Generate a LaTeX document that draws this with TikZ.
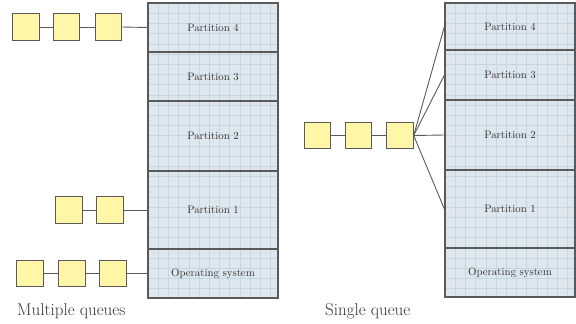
\documentclass[tikz,border=0pt]{standalone}
\usepackage{tikz}
\definecolor{memfill}{HTML}{DFE7EE}
\definecolor{gridc}{HTML}{C4D6E0}
\definecolor{edgec}{HTML}{5A5A5A}
\definecolor{qfill}{HTML}{FFF6A8}
\definecolor{txtc}{HTML}{333333}
\tikzset{
  part/.style={draw=edgec, line width=1.2pt, minimum width=130pt, inner sep=0pt, text=txtc, font=\fontsize{10.8}{12}\selectfont},
  qbox/.style={draw=edgec, line width=0.9pt, fill=qfill, minimum width=26.5pt, minimum height=26.5pt, inner sep=0pt},
  link/.style={draw=edgec, line width=0.9pt},
  caption/.style={text=txtc, font=\fontsize{17}{19}\selectfont, inner sep=0pt}
}
\begin{document}
\begin{tikzpicture}[x=1pt, y=-1pt]
\useasboundingbox (0,0) rectangle (576,324);
% memory backgrounds and grids
\fill[memfill] (148,3) rectangle (278,298);
\foreach \i in {1,...,12} \draw[gridc, line width=0.45pt] ({148+\i*10.2},3) -- ({148+\i*10.2},298);
\foreach \j in {1,...,28} \draw[gridc, line width=0.45pt] (148,{3+\j*10.2}) -- (278,{3+\j*10.2});
\fill[memfill] (445,3) rectangle (575,297);
\foreach \i in {1,...,12} \draw[gridc, line width=0.45pt] ({445+\i*10.2},3) -- ({445+\i*10.2},297);
\foreach \j in {1,...,28} \draw[gridc, line width=0.45pt] (445,{3+\j*10.2}) -- (575,{3+\j*10.2});
% left partitions
\node[part, minimum height=49pt] (L4) at (213,27.5) {Partition 4};
\node[part, minimum height=49pt] (L3) at (213,76.5) {Partition 3};
\node[part, minimum height=70pt] (L2) at (213,136) {Partition 2};
\node[part, minimum height=78pt] (L1) at (213,210) {Partition 1};
\node[part, minimum height=49pt] (LOS) at (213,273.5) {Operating system};
% right partitions
\node[part, minimum height=47pt] (R4) at (510,26.5) {Partition 4};
\node[part, minimum height=50pt] (R3) at (510,75) {Partition 3};
\node[part, minimum height=70pt] (R2) at (510,135) {Partition 2};
\node[part, minimum height=78pt] (R1) at (510,209) {Partition 1};
\node[part, minimum height=49pt] (ROS) at (510,272.5) {Operating system};
% left queues
\node[qbox] (a1) at (26,27) {};
\node[qbox] (a2) at (66.5,27) {};
\node[qbox] (a3) at (108.5,27) {};
\draw[link] (a1) -- (a2); \draw[link] (a2) -- (a3); \draw[link] (a3.east) -- (L4.west);
\node[qbox] (b1) at (69,210) {};
\node[qbox] (b2) at (110,210) {};
\draw[link] (b1) -- (b2); \draw[link] (b2.east) -- (L1.west);
\node[qbox] (c1) at (30,273.5) {};
\node[qbox] (c2) at (72,273.5) {};
\node[qbox] (c3) at (113,273.5) {};
\draw[link] (c1) -- (c2); \draw[link] (c2) -- (c3); \draw[link] (c3.east) -- (LOS.west);
% right queue
\node[qbox] (d1) at (317.5,135.5) {};
\node[qbox] (d2) at (358.5,135.5) {};
\node[qbox] (d3) at (400,135.5) {};
\draw[link] (d1) -- (d2); \draw[link] (d2) -- (d3);
\draw[link] (d3.east) -- (R4.west);
\draw[link] (d3.east) -- (R3.west);
\draw[link] (d3.east) -- (R2.west);
\draw[link] (d3.east) -- (R1.west);
% captions
\node[caption, anchor=west] (capL) at (17,311) {Multiple queues};
\node[caption, anchor=west] (capR) at (325,311) {Single queue};
\end{tikzpicture}
\end{document}
